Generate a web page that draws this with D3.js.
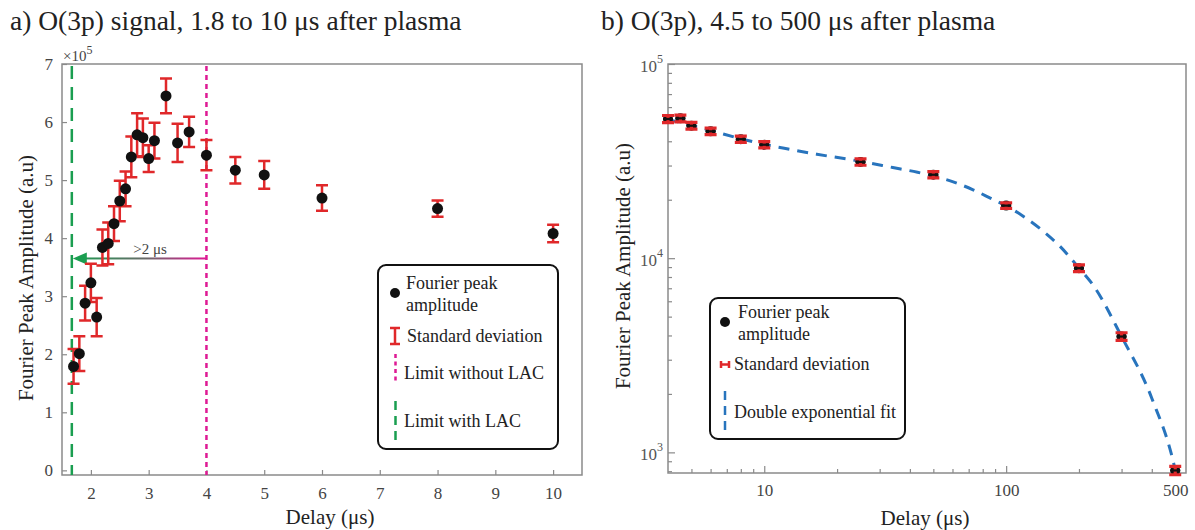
<!DOCTYPE html>
<html>
<head>
<meta charset="utf-8">
<script src="https://cdn.jsdelivr.net/npm/d3@7"></script>
<style>
  body { margin: 0; background: #fff; }
  text { font-family: "Liberation Serif", "DejaVu Serif", serif; }
</style>
</head>
<body>
<script>
const width = 1195;
const height = 530;

// panel a: delay (us) and amplitude (x1e5)
const delayA = [1.7, 1.8, 1.9, 2.0, 2.1, 2.2, 2.3, 2.4, 2.5, 2.6, 2.7, 2.8, 2.9, 3.0, 3.1, 3.3, 3.5, 3.7, 4.0, 4.5, 5, 6, 8, 10];
const ampA = [1.79, 2.01, 2.88, 3.23, 2.64, 3.84, 3.91, 4.25, 4.64, 4.85, 5.40, 5.78, 5.73, 5.37, 5.68, 6.45, 5.64, 5.83, 5.43, 5.17, 5.09, 4.69, 4.51, 4.08];
const sdA = [0.30, 0.30, 0.30, 0.33, 0.33, 0.31, 0.36, 0.30, 0.35, 0.30, 0.35, 0.37, 0.33, 0.23, 0.31, 0.30, 0.33, 0.26, 0.26, 0.23, 0.24, 0.22, 0.14, 0.15];
const ticksAx = [2, 3, 4, 5, 6, 7, 8, 9, 10];
const ticksAy = [0, 1, 2, 3, 4, 5, 6, 7];
const limitWithLAC = 1.67;
const limitWithoutLAC = 4;
const arrowLevel = 3.65;

// panel b
const delayB = [4, 4.5, 5, 6, 8, 10, 25, 50, 100, 200, 300, 500];
const ampB = [52100, 52500, 48100, 45000, 41000, 38400, 31300, 26900, 18650, 8880, 3950, 807];
const sdB = [2200, 2100, 1900, 1700, 1500, 1400, 1200, 1000, 600, 350, 180, 40];
const fitDelay = [4, 5, 6, 8, 10, 12.4, 16.5, 23, 34, 43, 50, 60, 73, 86, 100, 118, 143, 167, 200, 230, 300, 400, 500, 520];
const fitAmp = [51800, 48300, 45500, 41200, 38600, 36600, 34300, 32100, 29300, 27700, 26500, 24800, 22500, 20400, 18600, 16400, 13700, 11500, 8900, 7200, 3950, 1900, 810, 640];
const ticksBx = [10, 100, 500];
const ticksBy = [1e3, 1e4, 1e5];

const red = "#e0282a";
const green = "#1a9e50";
const magenta = "#de1a94";
const blue = "#2874bd";
const axisGray = "#8a8a8a";

const svg = d3.select('body')
  .append('svg')
  .attr('width', width)
  .attr('height', height);

const defs = svg.append("defs");

// ---------- panel a ----------
const xA = d3.scaleLinear().domain([1.5, 10.5]).range([62, 582]);
const yA = d3.scaleLinear().domain([-0.08, 7]).range([475, 64]);

svg.append("text")
  .attr("x", 10).attr("y", 30)
  .style("font-size", "27.5px").attr("fill", "#222")
  .text("a) O(3p) signal, 1.8 to 10 μs after plasma");

const gA = svg.append("g");

gA.append("g")
  .attr("transform", "translate(0," + yA.range()[0] + ")")
  .call(d3.axisBottom(xA).tickValues(ticksAx).tickSizeInner(-5).tickSizeOuter(0).tickPadding(12))
  .call(styleAxis);

gA.append("g")
  .attr("transform", "translate(" + xA.range()[0] + ",0)")
  .call(d3.axisLeft(yA).tickValues(ticksAy).tickSizeInner(-5).tickSizeOuter(0).tickPadding(9))
  .call(styleAxis);

gA.append("rect")
  .attr("x", 62).attr("y", 64).attr("width", 520).attr("height", 411)
  .attr("fill", "none").attr("stroke", axisGray).attr("stroke-width", 1.5);

const expA = svg.append("text").attr("x", 63).attr("y", 61).attr("fill", "#444").style("font-size", "15px");
expA.append("tspan").text("×10");
expA.append("tspan").attr("dy", -7).style("font-size", "12px").text("5");

// limit lines
gA.append("line")
  .attr("x1", xA(limitWithLAC)).attr("x2", xA(limitWithLAC))
  .attr("y1", 66).attr("y2", 475)
  .attr("stroke", green).attr("stroke-width", 2.5).attr("stroke-dasharray", "13,8");

gA.append("line")
  .attr("x1", xA(limitWithoutLAC)).attr("x2", xA(limitWithoutLAC))
  .attr("y1", 66).attr("y2", 475)
  .attr("stroke", magenta).attr("stroke-width", 2.5).attr("stroke-dasharray", "5,4");

// arrow green <- magenta
const grad = defs.append("linearGradient").attr("id", "arrowgrad")
  .attr("gradientUnits", "userSpaceOnUse")
  .attr("x1", xA(limitWithLAC)).attr("x2", xA(limitWithoutLAC))
  .attr("y1", 0).attr("y2", 0);
grad.append("stop").attr("offset", "0%").attr("stop-color", green);
grad.append("stop").attr("offset", "55%").attr("stop-color", "#6a6a6a");
grad.append("stop").attr("offset", "100%").attr("stop-color", magenta);

gA.append("rect")
  .attr("x", xA(limitWithLAC) + 10).attr("y", yA(arrowLevel) - 1)
  .attr("width", xA(limitWithoutLAC) - xA(limitWithLAC) - 10).attr("height", 2)
  .attr("fill", "url(#arrowgrad)");
gA.append("path")
  .attr("d", "M" + (xA(limitWithLAC) + 1) + "," + yA(arrowLevel) + "l14,-6l0,12z")
  .attr("fill", green);
gA.append("text")
  .attr("x", 150).attr("y", 254).attr("text-anchor", "middle")
  .attr("fill", "#444").style("font-size", "15px")
  .text(">2 μs");

// error bars a
const ptsA = delayA.map((d, i) => ({x: d, y: ampA[i], e: sdA[i]}));
const errA = gA.append("g").attr("stroke", red).attr("stroke-width", 2.5).attr("fill", "none");
errA.selectAll("path")
  .data(ptsA)
  .enter().append("path")
  .attr("d", d => {
    const cx = xA(d.x), t = yA(d.y + d.e), b = yA(d.y - d.e);
    return "M" + (cx - 6) + "," + t + "h12M" + cx + "," + t + "V" + b + "M" + (cx - 6) + "," + b + "h12";
  });

gA.append("g").selectAll("circle")
  .data(ptsA)
  .enter().append("circle")
  .attr("cx", d => xA(d.x)).attr("cy", d => yA(d.y))
  .attr("r", 5.5).attr("fill", "#111");

// legend a
const legA = svg.append("g");
legA.append("rect")
  .attr("x", 378).attr("y", 265).attr("width", 180).attr("height", 184).attr("rx", 8)
  .attr("fill", "#fff").attr("stroke", "#111").attr("stroke-width", 2);
legA.append("circle").attr("cx", 395).attr("cy", 293).attr("r", 5).attr("fill", "#111");
legA.append("path").attr("d", "M390,328h10M395,328V344M390,344h10")
  .attr("stroke", red).attr("stroke-width", 2.5).attr("fill", "none");
legA.append("line").attr("x1", 395.5).attr("x2", 395.5).attr("y1", 354).attr("y2", 384)
  .attr("stroke", magenta).attr("stroke-width", 2.5).attr("stroke-dasharray", "4,3.5");
legA.append("line").attr("x1", 395.5).attr("x2", 395.5).attr("y1", 401).attr("y2", 442)
  .attr("stroke", green).attr("stroke-width", 2.5).attr("stroke-dasharray", "9,6");
[["Fourier peak", 406, 289], ["amplitude", 406, 311], ["Standard deviation", 407, 342],
 ["Limit without LAC", 404, 379], ["Limit with LAC", 404, 427]].forEach(t => {
  legA.append("text").attr("x", t[1]).attr("y", t[2]).attr("fill", "#222")
    .style("font-size", "18px").text(t[0]);
});

svg.append("text")
  .attr("transform", "translate(33,278) rotate(-90)")
  .attr("text-anchor", "middle").attr("fill", "#222").style("font-size", "21px")
  .text("Fourier Peak Amplitude (a.u)");
svg.append("text")
  .attr("x", 330).attr("y", 524).attr("text-anchor", "middle")
  .attr("fill", "#222").style("font-size", "21px")
  .text("Delay (μs)");

// ---------- panel b ----------
const xB = d3.scaleLog().domain([4, 554]).range([668, 1186]);
const yB = d3.scaleLog().domain([783, 1e5]).range([473, 64]);

svg.append("text")
  .attr("x", 601).attr("y", 30)
  .style("font-size", "27.5px").attr("fill", "#222")
  .text("b) O(3p), 4.5 to 500 μs after plasma");

const gB = svg.append("g");

const minorX = [];
[1, 10, 100].forEach(p => d3.range(1, 10).forEach(k => {
  const v = k * p;
  if (v > 4 && v < 554 && !ticksBx.includes(v)) minorX.push(v);
}));
const minorY = [];
[100, 1000, 10000].forEach(p => d3.range(1, 10).forEach(k => {
  const v = k * p;
  if (v > 783 && v < 1e5 && !ticksBy.includes(v)) minorY.push(v);
}));

gB.append("g")
  .attr("transform", "translate(0," + yB.range()[0] + ")")
  .call(d3.axisBottom(xB).tickValues(minorX).tickSizeInner(-4).tickSizeOuter(0).tickFormat(""))
  .call(styleAxis);
gB.append("g")
  .attr("transform", "translate(0," + yB.range()[0] + ")")
  .call(d3.axisBottom(xB).tickValues(ticksBx).tickSizeInner(-7).tickSizeOuter(0).tickPadding(11).tickFormat(d3.format("d")))
  .call(styleAxis);
gB.append("g")
  .attr("transform", "translate(" + xB.range()[0] + ",0)")
  .call(d3.axisLeft(yB).tickValues(minorY).tickSizeInner(-4).tickSizeOuter(0).tickFormat(""))
  .call(styleAxis);
const yAxB = gB.append("g")
  .attr("transform", "translate(" + xB.range()[0] + ",0)")
  .call(d3.axisLeft(yB).tickValues(ticksBy).tickSizeInner(-7).tickSizeOuter(0).tickFormat(""))
  .call(styleAxis);
yAxB.selectAll(".tick").append("text")
  .attr("x", -5).attr("y", 7).attr("text-anchor", "end")
  .attr("fill", "#555").style("font-size", "17px")
  .each(function(d) {
    const t = d3.select(this);
    t.append("tspan").text("10");
    t.append("tspan").attr("dy", -9).style("font-size", "12px").text(Math.round(Math.log10(d)));
  });

gB.append("rect")
  .attr("x", 668).attr("y", 64).attr("width", 518).attr("height", 409)
  .attr("fill", "none").attr("stroke", axisGray).attr("stroke-width", 1.5);

defs.append("clipPath").attr("id", "clipB")
  .append("rect").attr("x", 668).attr("y", 64).attr("width", 518).attr("height", 409);

const fitLine = d3.line()
  .x((d, i) => xB(d))
  .y((d, i) => yB(fitAmp[i]))
  .curve(d3.curveMonotoneX);

gB.append("path")
  .datum(fitDelay)
  .attr("clip-path", "url(#clipB)")
  .attr("d", fitLine)
  .attr("fill", "none").attr("stroke", blue).attr("stroke-width", 3)
  .attr("stroke-dasharray", "11,8");

const ptsB = delayB.map((d, i) => ({x: d, y: ampB[i], e: sdB[i]}));
gB.append("g").selectAll("circle")
  .data(ptsB)
  .enter().append("circle")
  .attr("cx", d => xB(d.x)).attr("cy", d => yB(d.y))
  .attr("r", 5).attr("fill", "#111");
gB.append("g").attr("stroke", red).attr("stroke-width", 3.2).attr("fill", "none")
  .selectAll("path")
  .data(ptsB)
  .enter().append("path")
  .attr("d", d => {
    const cx = xB(d.x), t = yB(d.y + d.e), b = yB(d.y - d.e);
    return "M" + (cx - 6) + "," + t + "h12M" + cx + "," + t + "V" + b + "M" + (cx - 6) + "," + b + "h12";
  });
gB.append("g").selectAll("line")
  .data(ptsB)
  .enter().append("line")
  .attr("x1", d => xB(d.x) - 5).attr("x2", d => xB(d.x) + 5)
  .attr("y1", d => yB(d.y)).attr("y2", d => yB(d.y))
  .attr("stroke", "#111").attr("stroke-width", 2.2);

// legend b
const legB = svg.append("g");
legB.append("rect")
  .attr("x", 710).attr("y", 298).attr("width", 195).attr("height", 141).attr("rx", 8)
  .attr("fill", "#fff").attr("stroke", "#111").attr("stroke-width", 2);
legB.append("circle").attr("cx", 725).attr("cy", 322).attr("r", 5).attr("fill", "#111");
legB.append("path").attr("d", "M721,361v7M721,364.5h8M729,361v7")
  .attr("stroke", red).attr("stroke-width", 2.5).attr("fill", "none");
legB.append("line").attr("x1", 725).attr("x2", 725).attr("y1", 391).attr("y2", 433)
  .attr("stroke", blue).attr("stroke-width", 2.5).attr("stroke-dasharray", "9,6");
[["Fourier peak", 738, 318], ["amplitude", 738, 340], ["Standard deviation", 734, 370],
 ["Double exponential fit", 734, 418]].forEach(t => {
  legB.append("text").attr("x", t[1]).attr("y", t[2]).attr("fill", "#222")
    .style("font-size", "18px").text(t[0]);
});

svg.append("text")
  .attr("transform", "translate(630,266) rotate(-90)")
  .attr("text-anchor", "middle").attr("fill", "#222").style("font-size", "21px")
  .text("Fourier Peak Amplitude (a.u)");
svg.append("text")
  .attr("x", 925).attr("y", 525).attr("text-anchor", "middle")
  .attr("fill", "#222").style("font-size", "21px")
  .text("Delay (μs)");

function styleAxis(g) {
  g.select(".domain").remove();
  g.selectAll(".tick line").attr("stroke", axisGray).attr("stroke-width", 1.2);
  g.selectAll(".tick text")
    .attr("fill", "#444")
    .style("font-family", "Liberation Serif, serif")
    .style("font-size", "17px");
}
</script>
</body>
</html>
